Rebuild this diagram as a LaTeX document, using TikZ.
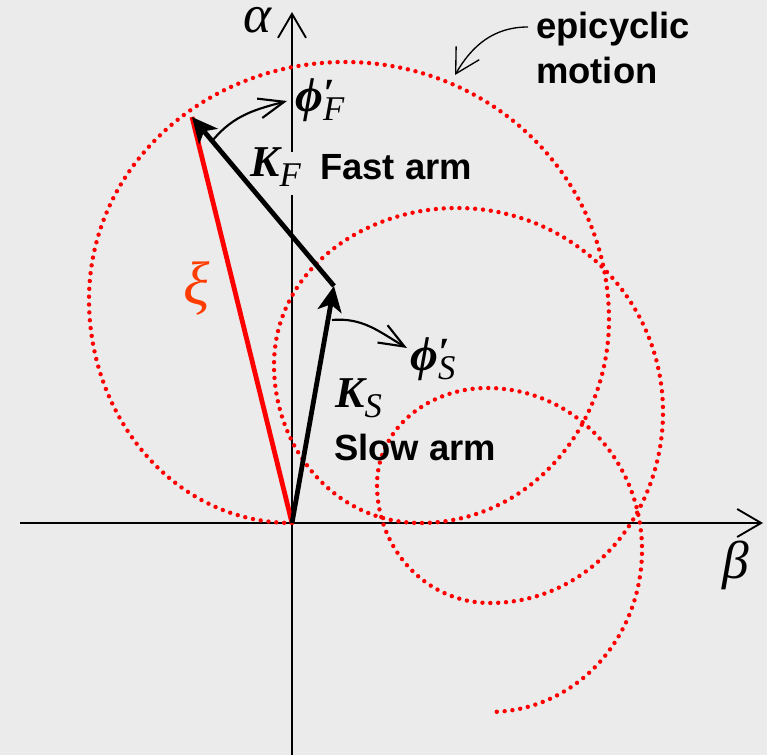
\documentclass[tikz,border=0pt]{standalone}
\usepackage{fontspec}
\setmainfont{Liberation Serif}
\newfontfamily\arialfont{Liberation Sans}
\usetikzlibrary{arrows.meta}
\definecolor{bg}{RGB}{235,235,235}
\definecolor{xicol}{RGB}{255,60,0}
\tikzset{
  axisline/.style={line width=1.4pt, black},
  axtip/.style={-{Straight Barb[length=18pt,width=21pt]}},
  epi/.style={red, line width=3.3pt, line cap=round, dash pattern=on 0pt off 5.9pt},
  armline/.style={line width=3.6pt, -{Stealth[length=19pt,width=18pt,inset=5pt]}},
  xiline/.style={red, line width=3.6pt},
  rotarrow/.style={line width=1.6pt, -{Straight Barb[length=19pt,width=15pt]}},
  pointer/.style={line width=1pt, -{Straight Barb[length=18pt,width=20pt]}},
  lbl/.style={inner sep=0pt, anchor=base west},
  greek/.style={lbl, text height=0.55em, text depth=0.2em, font=\fontsize{40}{40}\selectfont\itshape},
  armlbl/.style={lbl, font=\fontsize{27.3}{27.3}\selectfont\arialfont\bfseries},
  vec/.style={lbl, font=\fontsize{33}{33}\selectfont\bfseries\itshape},
  rate/.style={lbl, font=\fontsize{26}{26}\selectfont\itshape},
}
\newcommand{\bigphi}{{\fontsize{36}{36}\selectfont\bfseries ϕ}}
\begin{document}
\begin{tikzpicture}[x=0.75pt,y=-0.75pt]
\fill[bg] (0,0) rectangle (767,755);
\useasboundingbox (0,0) rectangle (767,755);

% points
\coordinate (O) at (292,523);
\coordinate (S) at (334,286);
\coordinate (F) at (192,117);
\coordinate (Abot) at (292,755);
\coordinate (Agap1) at (292,195);
\coordinate (Agap2) at (292,152);
\coordinate (Atop) at (292,12);
\coordinate (Bl) at (20,523);
\coordinate (Br) at (763,523);

% axes
\draw[axisline] (Abot) -- (Agap1);
\draw[axisline,axtip] (Agap2) -- (Atop);
\draw[axisline,axtip] (Bl) -- (Br);

% epicyclic trajectory
\draw[epi] (O) to[out=180,in=270] (89,300) to[out=90,in=180] (345,62)
  to[out=0,in=90] (609,320) to[out=270,in=0] (420,523)
  to[out=180,in=270] (274,365) to[out=90,in=180] (457,208)
  to[out=0,in=90] (663,412) to[out=270,in=0] (490,603)
  to[out=180,in=270] (377,485) to[out=90,in=180] (487,388)
  to[out=0,in=90] (642,550) to[out=270,in=0] (489,712);

% vectors
\draw[xiline] (O) -- (F);
\draw[armline] (O) -- (S);
\draw[armline] (S) -- (F);

% rotation arrows
\coordinate (pFa) at (213,140);
\coordinate (pFb) at (287,101);
\coordinate (pSa) at (332,320);
\coordinate (pSb) at (407,348);
\draw[rotarrow] (pFa) to[out=50,in=195] (pFb);
\draw[rotarrow] (pSa) to[out=5,in=150] (pSb);

% pointer to trajectory
\coordinate (ptA) at (528,27);
\coordinate (ptB) at (455,75);
\draw[pointer] (ptA) to[out=180,in=60] (ptB);

% labels
\node[greek] (alpha) at (243,33) {α};
\node[greek] (beta) at (722,578) {β};
\node[greek, text=xicol, font=\fontsize{46}{46}\selectfont\itshape] (xi) at (183,305) {ξ};
\node[vec] (KF) at (250,177) {K\raisebox{-7.5pt}{\fontsize{26}{26}\selectfont\mdseries F}};
\node[vec] (KS) at (335,407) {K\raisebox{-7.5pt}{\fontsize{26}{26}\selectfont\mdseries S}};
\node[rate] (phiF) at (295,112) {\bigphi\rlap{\raisebox{4pt}{\fontsize{30}{30}\selectfont\bfseries ′}}\raisebox{-6.5pt}{F}};
\node[rate] (phiS) at (410,371) {\bigphi\rlap{\raisebox{4pt}{\fontsize{30}{30}\selectfont\bfseries ′}}\raisebox{-6.5pt}{S}};
\node[armlbl] (fast) at (320,180) {Fast arm};
\node[armlbl] (slow) at (334,460) {Slow arm};
\node[inner sep=0pt, anchor=north west, align=left,
      font=\fontsize{27.3}{33.75}\selectfont\arialfont\bfseries] (epic) at (536,12) {epicyclic\\motion};
\end{tikzpicture}
\end{document}
